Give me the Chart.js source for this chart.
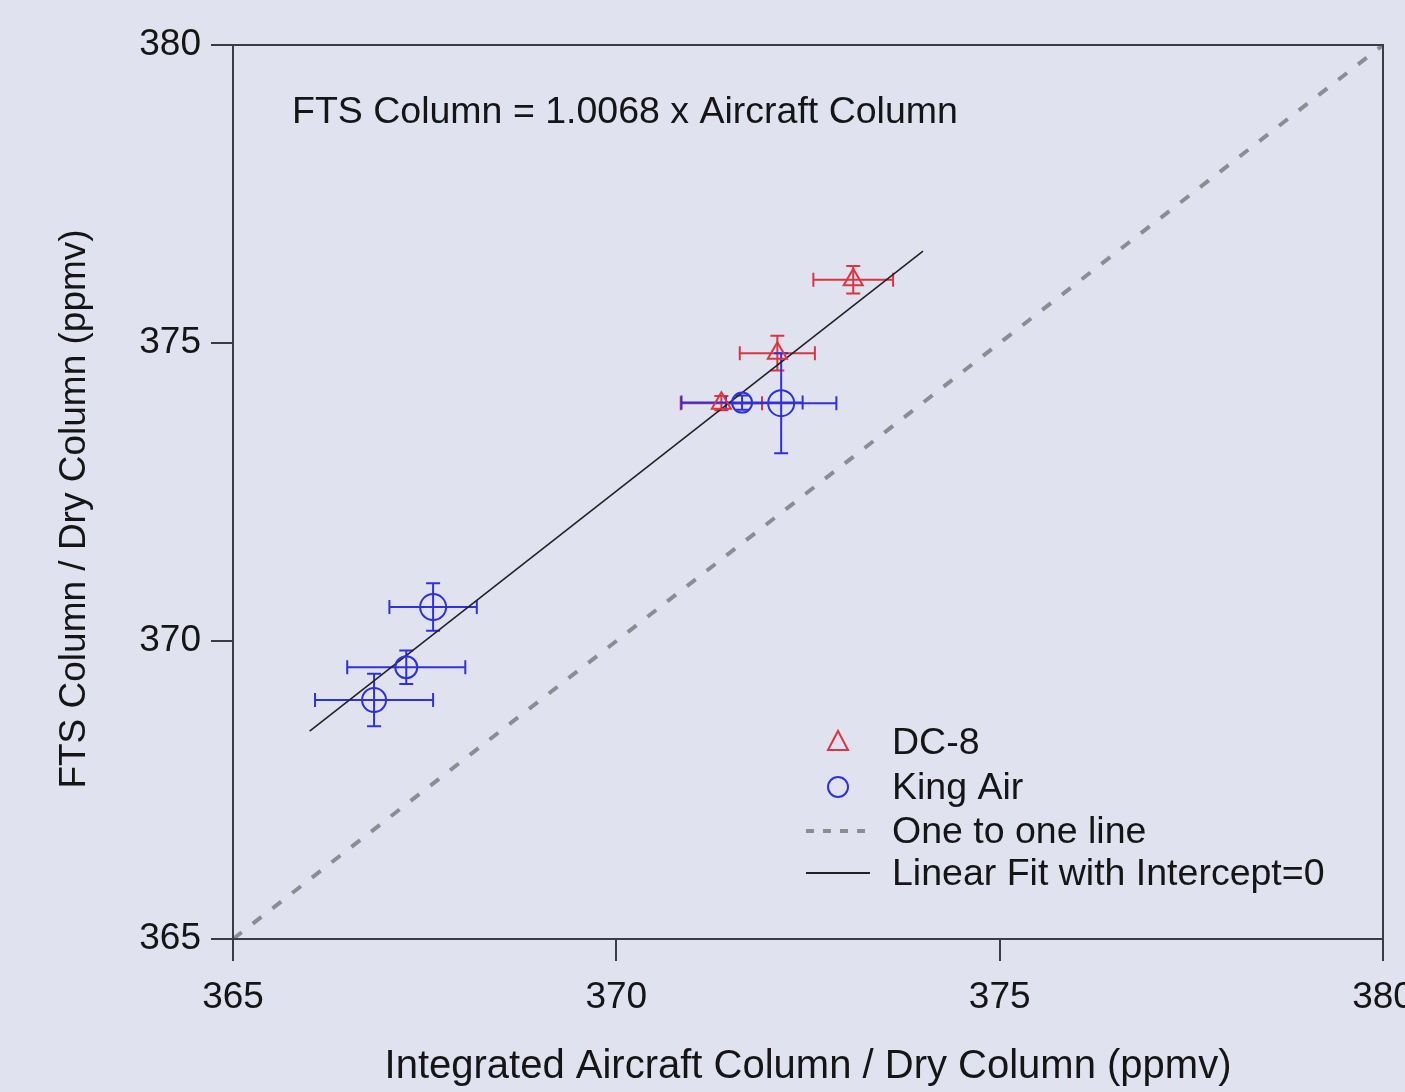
<!DOCTYPE html>
<html>
<head>
<meta charset="utf-8">
<script src="https://cdn.jsdelivr.net/npm/chart.js@4.4.1/dist/chart.umd.min.js"></script>
<style>
  html, body { margin: 0; padding: 0; background: #e1e2f0; overflow: hidden; }
  #wrap { width: 1405px; height: 1092px; position: relative; }
</style>
</head>
<body>
<div id="wrap"><canvas id="chart"></canvas></div>
<script>
// DC-8 comparisons (aircraft column, FTS column, 1-sigma errors)
const dc8X = [373.09, 372.10, 371.37];
const dc8Y = [376.06, 374.83, 373.99];
const dc8XErr = [0.52, 0.49, 0.53];
const dc8YErr = [0.23, 0.29, 0.12];

// King Air comparisons
const kingX = [371.64, 372.15, 367.61, 367.26, 366.84];
const kingY = [374.00, 373.99, 370.57, 369.56, 369.01];
const kingXErr = [0.79, 0.72, 0.57, 0.77, 0.77];
const kingYErr = [0.12, 0.84, 0.40, 0.28, 0.44];

// fit through origin and the 1:1 reference
const fitSlope = 1.0068;
const fitRange = [366.0, 374.0];
const oneToOne = [365, 380];
const axisTicks = [365, 370, 375, 380];

const red = '#dc3540';
const blue = '#2f31de';
const grey = '#8c8c94';
const ink = '#151515';
const axisColor = '#3c3c44';
const fontFamily = '"Liberation Sans", Arial, Helvetica, sans-serif';

Chart.defaults.font.family = fontFamily;
Chart.defaults.color = ink;

function toPoints(xs, ys) {
  return xs.map((x, i) => ({ x: x, y: ys[i] }));
}

// error bars, drawn under the markers
const errorBars = {
  id: 'errorBars',
  beforeDatasetsDraw(chart) {
    const ctx = chart.ctx;
    const xs = chart.scales.x, ys = chart.scales.y;
    chart.data.datasets.forEach(ds => {
      if (!ds.xErr) return;
      ctx.save();
      ctx.strokeStyle = ds.borderColor;
      ctx.lineWidth = 2;
      ds.data.forEach((p, i) => {
        const px = xs.getPixelForValue(p.x);
        const py = ys.getPixelForValue(p.y);
        const x0 = xs.getPixelForValue(p.x - ds.xErr[i]);
        const x1 = xs.getPixelForValue(p.x + ds.xErr[i]);
        const y0 = ys.getPixelForValue(p.y - ds.yErr[i]);
        const y1 = ys.getPixelForValue(p.y + ds.yErr[i]);
        const cap = 7;
        ctx.beginPath();
        ctx.moveTo(x0, py); ctx.lineTo(x1, py);
        ctx.moveTo(x0, py - cap); ctx.lineTo(x0, py + cap);
        ctx.moveTo(x1, py - cap); ctx.lineTo(x1, py + cap);
        ctx.moveTo(px, y0); ctx.lineTo(px, y1);
        ctx.moveTo(px - cap, y0); ctx.lineTo(px + cap, y0);
        ctx.moveTo(px - cap, y1); ctx.lineTo(px + cap, y1);
        ctx.stroke();
      });
      ctx.restore();
    });
  }
};

// frame, y title, fit equation and legend
const decorations = {
  id: 'decorations',
  afterDraw(chart) {
    const ctx = chart.ctx;
    const a = chart.chartArea;
    ctx.save();
    ctx.strokeStyle = axisColor;
    ctx.lineWidth = 2;
    ctx.strokeRect(a.left, a.top, a.right - a.left, a.bottom - a.top);

    ctx.fillStyle = ink;
    ctx.textBaseline = 'middle';

    ctx.save();
    ctx.translate(75, 509);
    ctx.rotate(-Math.PI / 2);
    ctx.textAlign = 'center';
    ctx.font = '37px ' + fontFamily;
    ctx.fillText('FTS Column / Dry Column (ppmv)', 0, 0);
    ctx.restore();

    ctx.font = '37.5px ' + fontFamily;
    ctx.textAlign = 'left';
    ctx.fillText('FTS Column = ' + fitSlope.toFixed(4) + ' x Aircraft Column', 292, 113);

    const symX = 838, textX = 892;
    const rows = [744, 789, 833, 875];
    const labels = chart.data.datasets.map(d => d.label);

    // triangle
    ctx.strokeStyle = red;
    ctx.lineWidth = 2;
    ctx.beginPath();
    ctx.moveTo(symX, rows[0] - 13);
    ctx.lineTo(symX + 10, rows[0] + 6);
    ctx.lineTo(symX - 10, rows[0] + 6);
    ctx.closePath();
    ctx.stroke();
    // circle
    ctx.strokeStyle = blue;
    ctx.beginPath();
    ctx.arc(symX, rows[1] - 2, 10, 0, Math.PI * 2);
    ctx.stroke();
    // dashed
    ctx.strokeStyle = grey;
    ctx.lineWidth = 4;
    ctx.setLineDash([8, 9]);
    ctx.beginPath();
    ctx.moveTo(806, rows[2] - 2); ctx.lineTo(870, rows[2] - 2);
    ctx.stroke();
    ctx.setLineDash([]);
    // solid
    ctx.strokeStyle = '#222';
    ctx.lineWidth = 2;
    ctx.beginPath();
    ctx.moveTo(806, rows[3] - 2); ctx.lineTo(870, rows[3] - 2);
    ctx.stroke();

    ctx.fillStyle = ink;
    labels.forEach((t, i) => ctx.fillText(t, textX, rows[i]));
    ctx.restore();
  }
};

function axis() {
  return {
    type: 'linear',
    min: 365,
    max: 380,
    afterBuildTicks: s => { s.ticks = axisTicks.map(v => ({ value: v })); },
    ticks: { font: { size: 37 }, color: ink, padding: 10 },
    grid: { drawOnChartArea: false, drawTicks: true, tickLength: 22, color: axisColor, lineWidth: 2 },
    border: { display: true, color: axisColor, width: 2 }
  };
}

const xAxis = axis();
xAxis.title = {
  display: true,
  text: 'Integrated Aircraft Column / Dry Column (ppmv)',
  font: { size: 40 },
  color: ink,
  padding: { top: 0, bottom: 1 }
};
xAxis.ticks.padding = 15;
xAxis.afterFit = s => { s.height = 153; s.paddingLeft = 0; s.paddingRight = 0; };

const yAxis = axis();
yAxis.afterFit = s => { s.width = 233; s.paddingTop = 0; s.paddingBottom = 0; };

new Chart(document.getElementById('chart'), {
  type: 'scatter',
  data: {
    datasets: [
      {
        label: 'DC-8',
        data: toPoints(dc8X, dc8Y),
        xErr: dc8XErr,
        yErr: dc8YErr,
        pointStyle: 'triangle',
        radius: 11,
        borderColor: red,
        backgroundColor: 'rgba(0,0,0,0)',
        borderWidth: 2
      },
      {
        label: 'King Air',
        data: toPoints(kingX, kingY),
        xErr: kingXErr,
        yErr: kingYErr,
        pointStyle: 'circle',
        radius: [10, 13, 13, 11, 12],
        borderColor: blue,
        backgroundColor: 'rgba(0,0,0,0)',
        borderWidth: 2
      },
      {
        label: 'One to one line',
        type: 'line',
        data: toPoints(oneToOne, oneToOne),
        borderColor: grey,
        borderWidth: 4,
        borderDash: [11, 14],
        pointRadius: 0
      },
      {
        label: 'Linear Fit with Intercept=0',
        type: 'line',
        data: toPoints(fitRange, fitRange.map(v => v * fitSlope)),
        borderColor: '#222',
        borderWidth: 1.6,
        pointRadius: 0
      }
    ]
  },
  options: {
    responsive: true,
    maintainAspectRatio: false,
    animation: false,
    layout: { padding: { top: 45, right: 22, left: 0, bottom: 0 } },
    scales: { x: xAxis, y: yAxis },
    plugins: { legend: { display: false }, tooltip: { enabled: false } }
  },
  plugins: [errorBars, decorations]
});
</script>
</body>
</html>
